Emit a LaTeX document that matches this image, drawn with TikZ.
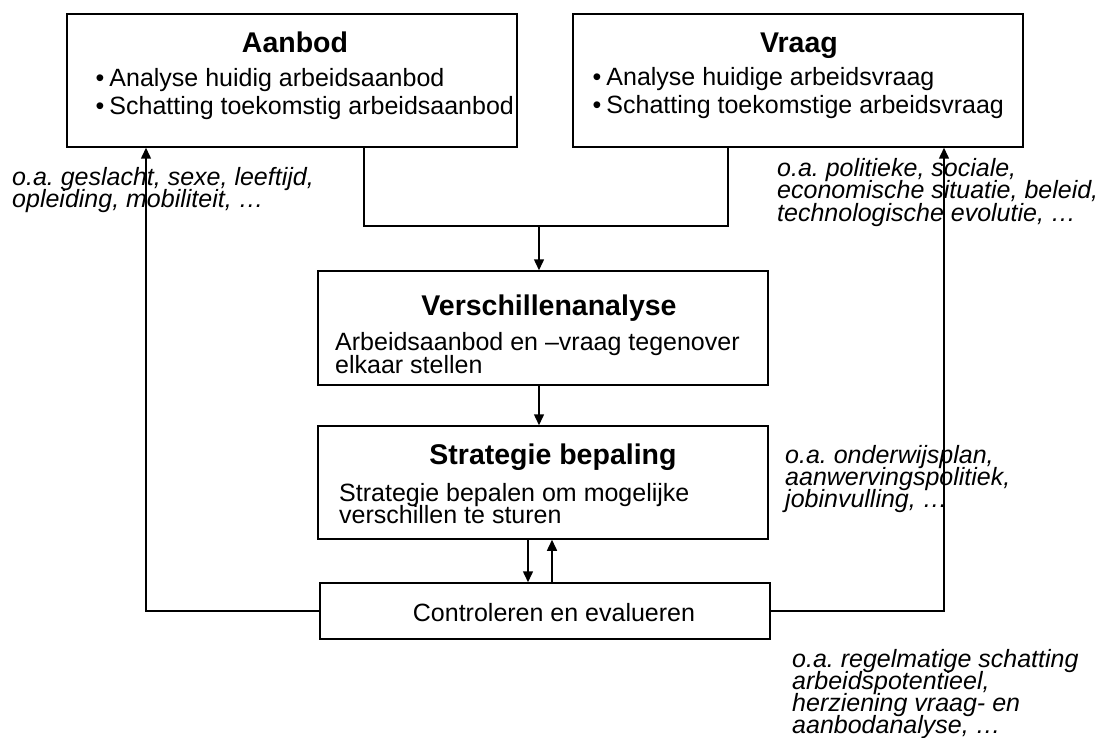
\documentclass[tikz,border=0pt]{standalone}
\usepackage{fontspec}
\setmainfont{Liberation Sans}
\usetikzlibrary{arrows.meta}
% keep a fixed baseline-to-baseline distance in multi-line texts
\newcommand\fixedleading{\lineskiplimit -100pt\relax\lineskip 0pt\relax}
\frenchspacing

\begin{document}
\begin{tikzpicture}[x=1pt,y=-1pt,
  box/.style={draw,line width=1.5pt,rectangle,minimum width=450pt,inner sep=0pt},
  title/.style={anchor=base,inner sep=0pt,font=\fontsize{28.5}{30}\selectfont\bfseries},
  body/.style={anchor=base west,inner sep=0pt,align=left,
    font=\fontsize{25}{22.5}\selectfont\fixedleading},
  note/.style={anchor=base west,inner sep=0pt,align=left,
    font=\fontsize{25}{22}\selectfont\itshape\fixedleading},
  link/.style={line width=1.5pt},
  arr/.style={line width=1.5pt,-{Triangle[width=10pt,length=11pt]}}]

\useasboundingbox (0,0) rectangle (1102,738);

% boxes
\node[box,minimum height=133pt] (aanbod) at (292,80.5) {};
\node[box,minimum height=133pt] (vraag) at (798,80.5) {};
\node[box,minimum height=114pt] (versch) at (543,328) {};
\node[box,minimum height=113pt] (strat) at (543,482.5) {};
\node[box,minimum height=56pt] (contr) at (545,611) {};

% box texts (multi-line nodes sit on the baseline of their last line)
\node[title] (aanbodT) at (295,53) {Aanbod};
\node[body] (aanbodB1) at (95.5,87) {•\hspace{5pt}Analyse huidig arbeidsaanbod};
\node[body] (aanbodB2) at (95.5,115) {•\hspace{5pt}Schatting toekomstig arbeidsaanbod};

\node[title] (vraagT) at (799,53) {Vraag};
\node[body] (vraagB1) at (592.5,86) {•\hspace{5pt}Analyse huidige arbeidsvraag};
\node[body] (vraagB2) at (592.5,114) {•\hspace{5pt}Schatting toekomstige arbeidsvraag};

\node[title] (verschT) at (549,315) {Verschillenanalyse};
\node[body] (verschB) at (335,373) {Arbeidsaanbod en –vraag tegenover\\elkaar stellen};

\node[title] (stratT) at (553,464) {Strategie bepaling};
\node[body] (stratB) at (339,523.5) {Strategie bepalen om mogelijke\\verschillen te sturen};

\node[body,anchor=base] (contrT) at (554,621) {Controleren en evalueren};

% side notes
\node[note] (noteL) at (12,207.5) {o.a. geslacht, sexe, leeftijd,\\opleiding, mobiliteit, …};
\node[note] (noteR) at (777,221) {o.a. politieke, sociale,\\economische situatie, beleid,\\technologische evolutie, …};
\node[note] (noteS) at (785,507) {o.a. onderwijsplan,\\aanwervingspolitiek,\\jobinvulling, …};
\node[note] (noteC) at (792,733) {o.a. regelmatige schatting\\arbeidspotentieel,\\herziening vraag- en\\aanbodanalyse, …};

% routing points
\coordinate (mergeL) at (364,226);
\coordinate (mergeR) at (728,226);
\coordinate (merge) at (539,226);
\coordinate (down) at (528,0);
\coordinate (up) at (552,0);
\coordinate (fbL) at (146,611);
\coordinate (fbR) at (944,611);

% connectors
\draw[link] (aanbod.south -| mergeL) -- (mergeL) -- (mergeR) -- (vraag.south -| mergeR);
\draw[arr] (merge) -- (versch.north -| merge);
\draw[arr] (versch.south -| merge) -- (strat.north -| merge);
\draw[arr] (strat.south -| down) -- (contr.north -| down);
\draw[arr] (contr.north -| up) -- (strat.south -| up);
\draw[arr] (contr.west) -- (fbL) -- (fbL |- aanbod.south);
\draw[arr] (contr.east) -- (fbR) -- (fbR |- vraag.south);
\end{tikzpicture}
\end{document}
